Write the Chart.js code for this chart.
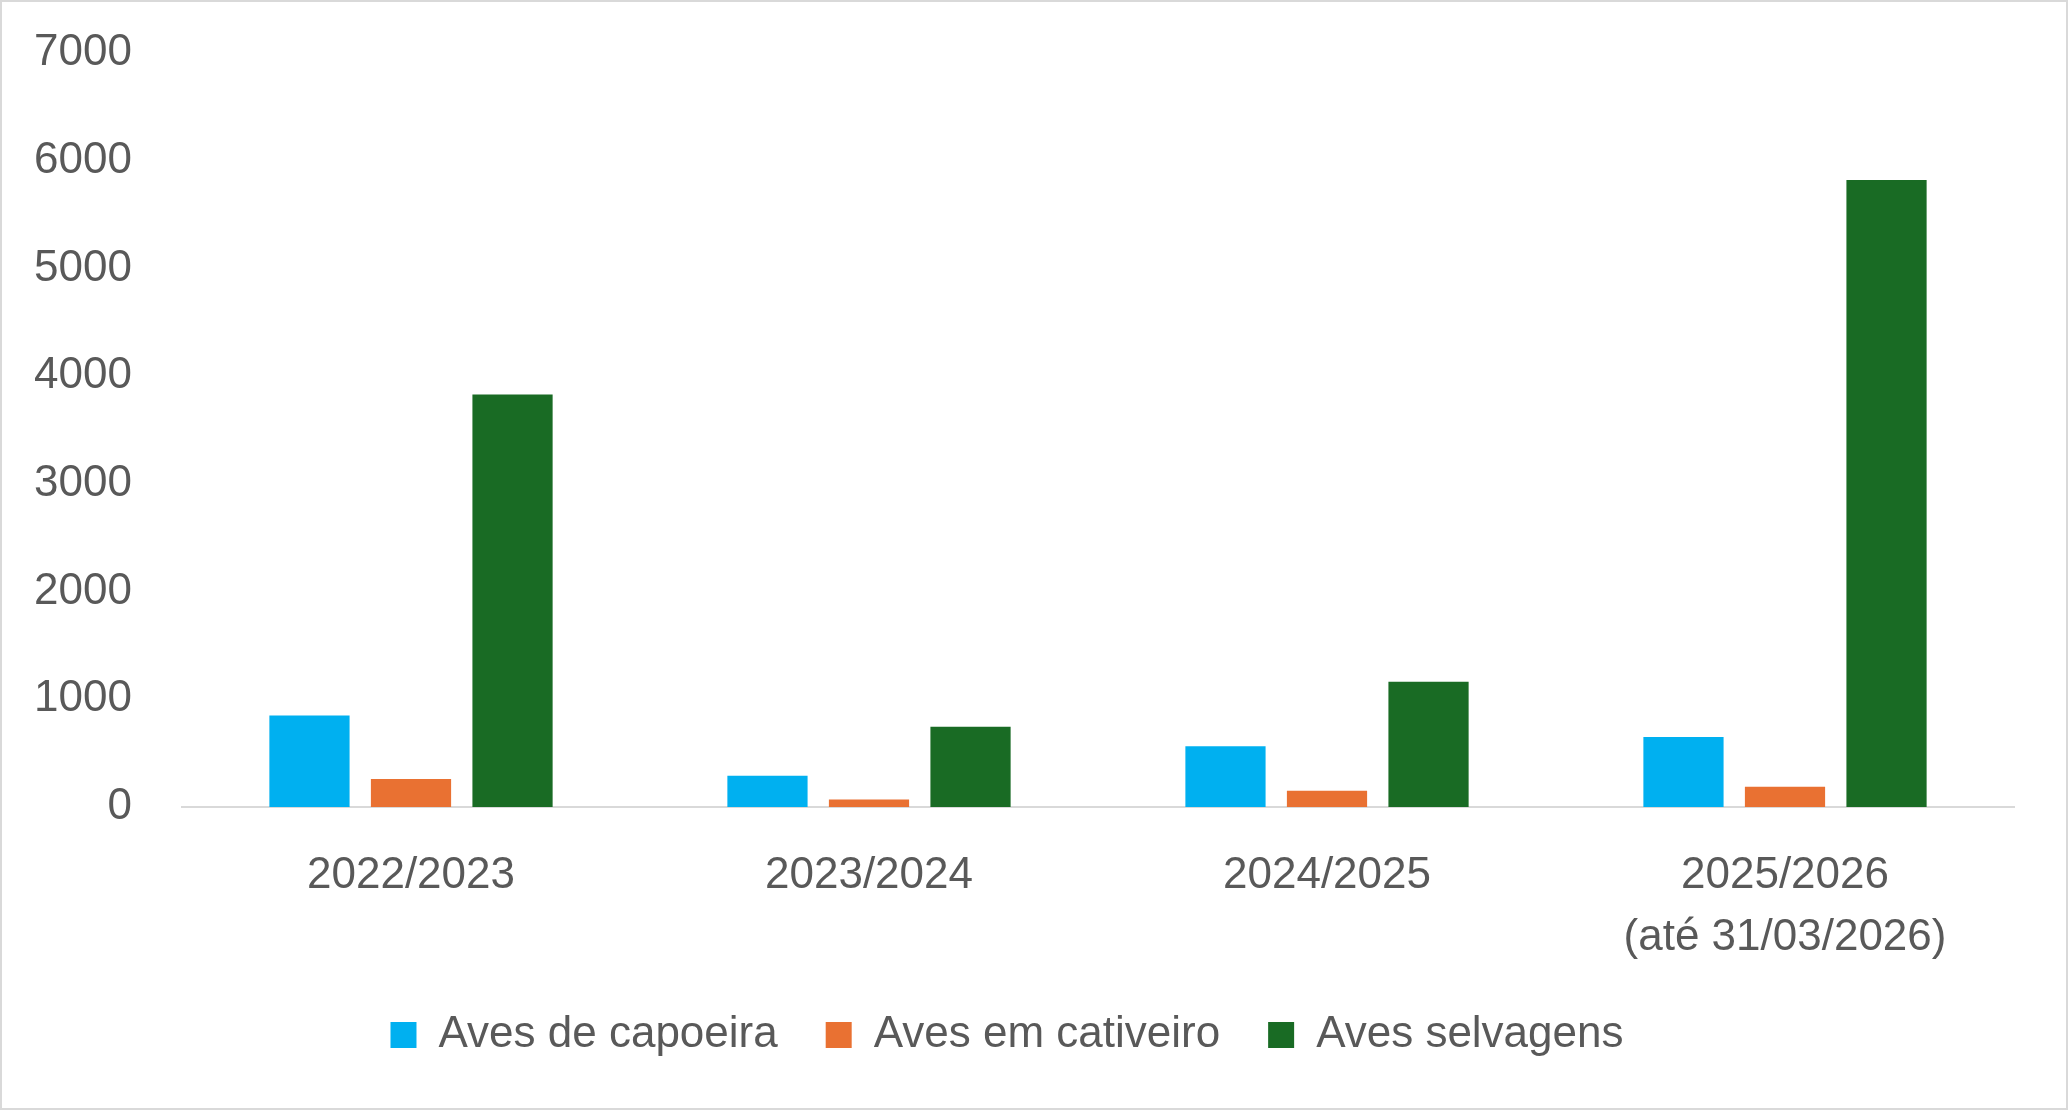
<!DOCTYPE html>
<html>
<head>
<meta charset="utf-8">
<script src="https://cdn.jsdelivr.net/npm/chart.js@4"></script>
<style>
  body { margin: 0; background: #fff; }
  #wrap { width: 2068px; height: 1110px; }
  canvas { outline: 2px solid #d9d9d9; outline-offset: -2px; }
</style>
</head>
<body>
<div id="wrap"><canvas id="grafico"></canvas></div>
<script>
// dados
const categorias = ['2022/2023', '2023/2024', '2024/2025', ['2025/2026', '(até 31/03/2026)']];
const avesCapoeira = [850, 290, 565, 650];
const avesCativeiro = [260, 70, 152, 188];
const avesSelvagens = [3830, 745, 1163, 5820];

const corTexto = '#595959';
const fonte = 'Liberation Sans, Arial, sans-serif';

new Chart(document.getElementById('grafico'), {
    type: 'bar',
    data: {
        labels: categorias,
        datasets: [
            { label: 'Aves de capoeira', data: avesCapoeira, backgroundColor: '#00B0F0' },
            { label: 'Aves em cativeiro', data: avesCativeiro, backgroundColor: '#E97132' },
            { label: 'Aves selvagens', data: avesSelvagens, backgroundColor: '#196B24' }
        ]
    },
    options: {
        responsive: true,
        maintainAspectRatio: false,
        animation: false,
        categoryPercentage: 0.665,
        barPercentage: 0.79,
        layout: { padding: { top: 53, right: 54, bottom: 43, left: 0 } },
        plugins: {
            tooltip: { enabled: false },
            legend: {
                position: 'bottom',
                labels: {
                    boxWidth: 26,
                    boxHeight: 26,
                    padding: 48,
                    color: corTexto,
                    font: { family: fonte, size: 44 }
                }
            }
        },
        scales: {
            x: {
                grid: { display: false, drawTicks: false },
                border: { display: true, color: '#d9d9d9', width: 2 },
                ticks: {
                    color: corTexto,
                    padding: 38,
                    maxRotation: 0,
                    autoSkip: false,
                    font: { family: fonte, size: 44, lineHeight: 1.4 }
                },
                afterFit: (s) => { s.height = 158; }
            },
            y: {
                min: 0,
                max: 7000,
                grid: { display: false, drawTicks: false },
                border: { display: false },
                ticks: {
                    stepSize: 1000,
                    color: corTexto,
                    padding: 50,
                    font: { family: fonte, size: 44 },
                    callback: (v) => String(v)
                },
                afterFit: (s) => {
                    s.width = 182;
                    s.paddingTop = 26;
                    s.paddingBottom = 26;
                }
            }
        }
    }
});
</script>
</body>
</html>
